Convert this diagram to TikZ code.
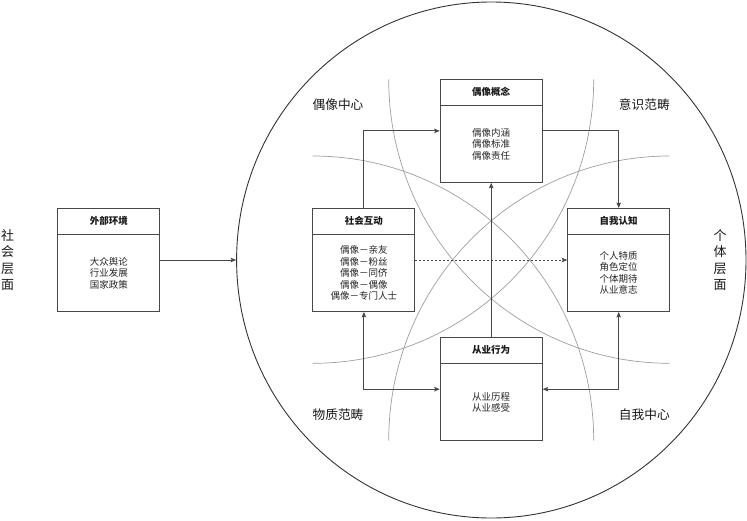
\documentclass[tikz,border=0pt]{standalone}
\usepackage{fontspec}
\setmainfont{Noto Sans CJK SC}
\usetikzlibrary{shapes.geometric,arrows.meta}
\newcommand{\umlbox}[5]{%
  \node[umlframe] (#1) at (#2,-#3) {};
  \draw[umlrule] ([yshift=-26pt]#1.north west) -- ([yshift=-26pt]#1.north east);
  \node[umltitle] (#1-t) at ([yshift=-13pt]#1.north) {#4};
  \node[umlbody] (#1-b) at ([yshift=-13pt]#1.center) {#5};
}
\begin{document}
\begin{tikzpicture}[x=1pt,y=1pt,
  umlframe/.style={draw=black!72, line width=0.9pt, minimum width=102pt, minimum height=103pt, inner sep=0pt, fill=white},
  umlrule/.style={draw=black!72, line width=0.9pt},
  umltitle/.style={font=\fontsize{9.5}{11.5}\selectfont\bfseries, text=black!90, inner sep=0pt},
  umlbody/.style={font=\fontsize{9.5}{11.5}\selectfont, text=black!85, align=center, inner sep=0pt},
  quad/.style={font=\fontsize{12.7}{15}\selectfont, text=black!90, inner sep=0pt},
  vlabel/.style={font=\fontsize{13}{16.5}\selectfont, text=black!90, align=center, inner sep=0pt},
  conn/.style={draw=black!72, line width=0.9pt, -{Stealth[length=5.5pt,width=4.5pt,inset=1pt]}},
  bothconn/.style={draw=black!72, line width=0.9pt, {Stealth[length=5.5pt,width=4.5pt,inset=1pt]}-{Stealth[length=5.5pt,width=4.5pt,inset=1pt]}},
  guide/.style={draw=black!38, line width=0.7pt}
]
\useasboundingbox (0,0) rectangle (747,-520);

% big ring
\node[ellipse, draw=black!80, line width=0.9pt, minimum width=509.4pt, minimum height=516pt, inner sep=0pt] (ring) at (491.3,-260) {};

% guide arcs
\draw[guide] (312.7,-156) arc[start angle=90, end angle=0, x radius=281, y radius=284.7];
\draw[guide] (669.7,-156) arc[start angle=90, end angle=180, x radius=281, y radius=284.7];
\draw[guide] (388.7,-79.3) arc[start angle=180, end angle=270, x radius=281, y radius=284];
\draw[guide] (593.7,-79.3) arc[start angle=0, end angle=-90, x radius=281, y radius=284];

% boxes
\umlbox{ext}{108.9}{260}{外部环境}{大众舆论\\行业发展\\国家政策}
\umlbox{sh}{363.9}{260}{社会互动}{偶像－亲友\\偶像－粉丝\\偶像－同侪\\偶像－偶像\\偶像－专门人士}
\umlbox{zw}{618.7}{260}{自我认知}{个人特质\\角色定位\\个体期待\\从业意志}
\umlbox{ox}{491.2}{130.9}{偶像概念}{偶像内涵\\偶像标准\\偶像责任}
\umlbox{cy}{491.2}{389.2}{从业行为}{从业历程\\从业感受}

% connectors
\draw[conn] (ext.east) -- (ring.west);
\draw[conn] (sh.north) |- (ox.west);
\draw[conn] (ox.east) -| (zw.north);
\draw[conn] (cy.north) -- (ox.south);
\draw[bothconn] (sh.south) |- (cy.west);
\draw[bothconn] (zw.south) |- (cy.east);
\draw[conn, dash pattern=on 2pt off 2pt] (sh.east) -- (zw.west);

% quadrant labels
\node[quad] (q1) at (338,-105) {偶像中心};
\node[quad] (q2) at (644.3,-105) {意识范畴};
\node[quad] (q3) at (338,-415) {物质范畴};
\node[quad] (q4) at (644.3,-415) {自我中心};

% side labels
\node[vlabel] (left) at (7.7,-260) {社\\会\\层\\面};
\node[vlabel] (right) at (720,-260) {个\\体\\层\\面};
\end{tikzpicture}
\end{document}
